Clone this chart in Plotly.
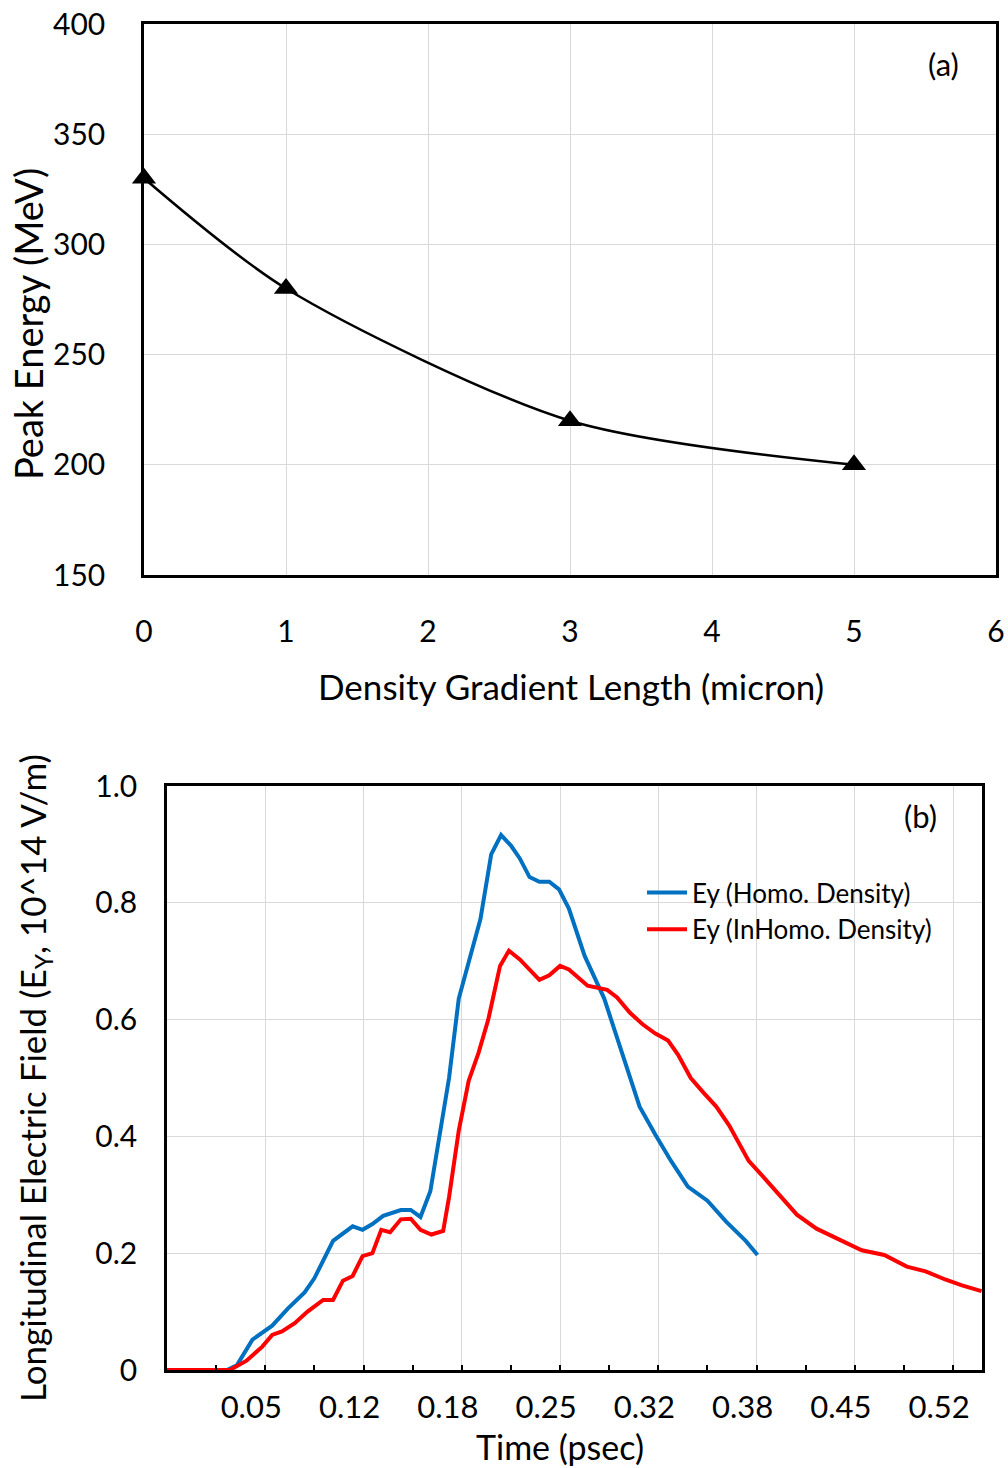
import plotly.graph_objects as go

FONT = "Lato, 'Open Sans', sans-serif"

# ---------- Panel (a) data ----------
gradient_length = [0, 1, 3, 5]
peak_energy = [330, 280, 220, 200]

# ---------- Panel (b) data ----------
time_homo = [-0.0167, 0.024, 0.0307, 0.0413, 0.0547, 0.0653, 0.0767, 0.0833, 0.096, 0.1093,
             0.116, 0.1227, 0.13, 0.142, 0.1487, 0.1553, 0.162, 0.168, 0.1747, 0.1813,
             0.188, 0.196, 0.2033, 0.21, 0.2167, 0.2227, 0.2293, 0.236, 0.2427, 0.2493,
             0.256, 0.2667, 0.28, 0.2927, 0.304, 0.3147, 0.3253, 0.3367, 0.35, 0.3627,
             0.376, 0.384]
ey_homo = [0, 0, 0.008, 0.052, 0.076, 0.105, 0.133, 0.157, 0.221, 0.246,
           0.24, 0.25, 0.264, 0.274, 0.274, 0.262, 0.306, 0.395, 0.50, 0.636,
           0.70, 0.772, 0.883, 0.916, 0.898, 0.876, 0.844, 0.836, 0.836, 0.823,
           0.790, 0.709, 0.636, 0.54, 0.451, 0.403, 0.358, 0.314, 0.29, 0.254,
           0.221, 0.197]

time_inhomo = [-0.0167, 0.026, 0.0373, 0.048, 0.0547, 0.0613, 0.07, 0.0787, 0.0893, 0.096,
               0.1027, 0.1093, 0.116, 0.1227, 0.1287, 0.1347, 0.142, 0.1487, 0.1553, 0.1627,
               0.1707, 0.1747, 0.1813, 0.188, 0.1947, 0.2013, 0.2093, 0.2153, 0.2227, 0.236,
               0.2427, 0.25, 0.256, 0.2687, 0.282, 0.2887, 0.2973, 0.306, 0.3147, 0.3233,
               0.33, 0.3387, 0.3473, 0.356, 0.3647, 0.378, 0.3867, 0.398, 0.4107, 0.424,
               0.4413, 0.4547, 0.47, 0.4853, 0.498, 0.5113, 0.5227, 0.536]
ey_inhomo = [0, 0, 0.016, 0.04, 0.06, 0.066, 0.08, 0.10, 0.12, 0.12,
             0.153, 0.161, 0.195, 0.20, 0.24, 0.236, 0.258, 0.259, 0.24, 0.232,
             0.238, 0.296, 0.41, 0.495, 0.543, 0.60, 0.692, 0.718, 0.703, 0.668,
             0.676, 0.692, 0.686, 0.658, 0.651, 0.638, 0.612, 0.592, 0.576, 0.564,
             0.54, 0.50, 0.475, 0.451, 0.419, 0.358, 0.334, 0.302, 0.266, 0.242,
             0.221, 0.205, 0.197, 0.177, 0.169, 0.155, 0.145, 0.135]

time_tickvals = [0.05, 0.11667, 0.18333, 0.25, 0.31667, 0.38333, 0.45, 0.51667]
time_ticktext = ["0.05", "0.12", "0.18", "0.25", "0.32", "0.38", "0.45", "0.52"]
field_tickvals = [0, 0.2, 0.4, 0.6, 0.8, 1.0]
field_ticktext = ["0", "0.2", "0.4", "0.6", "0.8", "1.0"]

W, H = 1008, 1468


def px_x(p):
    return p / W


def px_y(p):
    return 1 - p / H


fig = go.Figure()

fig.add_trace(go.Scatter(
    x=gradient_length, y=peak_energy, mode="lines+markers",
    line=dict(color="black", width=2.5, shape="spline", smoothing=0.8),
    marker=dict(symbol="triangle-up", size=21, color="black"),
    xaxis="x", yaxis="y", showlegend=False, cliponaxis=False))

fig.add_trace(go.Scatter(
    x=time_homo, y=ey_homo, mode="lines", name="Ey (Homo. Density)",
    line=dict(color="#0070C0", width=4), xaxis="x2", yaxis="y2"))
fig.add_trace(go.Scatter(
    x=time_inhomo, y=ey_inhomo, mode="lines", name="Ey (InHomo. Density)",
    line=dict(color="#FF0000", width=4), xaxis="x2", yaxis="y2"))

grid = "#D9D9D9"
common_axis = dict(showline=True, linecolor="black", linewidth=2.5, mirror=True,
                   showgrid=True, gridcolor=grid, gridwidth=1, zeroline=False,
                   automargin=False,
                   tickfont=dict(family=FONT, size=30, color="black"))


def ann(text, x, y, size, angle=0):
    return dict(text=text, x=px_x(x), y=px_y(y), xref="paper", yref="paper",
                xanchor="center", yanchor="middle", showarrow=False, textangle=angle,
                font=dict(family=FONT, size=size, color="black"))


fig.update_layout(
    width=W, height=H,
    margin=dict(l=0, r=0, t=0, b=0, pad=0, autoexpand=False),
    paper_bgcolor="white", plot_bgcolor="white",
    font=dict(family=FONT, color="black"),
    xaxis=dict(common_axis, domain=[px_x(144), px_x(996)], anchor="y",
               range=[0, 6], tickvals=[0, 1, 2, 3, 4, 5, 6], ticks="",
               ticklabelstandoff=28),
    yaxis=dict(common_axis, domain=[px_y(575), px_y(24)], anchor="x",
               range=[150, 400], tickvals=[150, 200, 250, 300, 350, 400], ticks="",
               ticklabelstandoff=30),
    xaxis2=dict(common_axis, domain=[px_x(167), px_x(982)], anchor="y2",
                range=[-0.01667, 0.5363], tickvals=time_tickvals, ticktext=time_ticktext,
                ticks="inside", ticklen=5, tickcolor="black", tickwidth=1.5,
                minor=dict(ticks="inside", ticklen=5, tickcolor="black", tickwidth=1.5,
                           tick0=0.05 - 1 / 30, dtick=1 / 15, showgrid=False),
                ticklabelstandoff=8, ticklabelshift=-14,
                tickfont=dict(family=FONT, size=31, color="black")),
    yaxis2=dict(common_axis, domain=[px_y(1370), px_y(786)], anchor="x2",
                range=[0, 1.0], tickvals=field_tickvals, ticktext=field_ticktext,
                ticks="", ticklabelstandoff=21),
    legend=dict(x=px_x(642), y=px_y(869), xanchor="left", yanchor="top",
                bgcolor="rgba(0,0,0,0)", font=dict(family=FONT, size=26, color="black"),
                tracegroupgap=0, itemwidth=40),
    annotations=[
        ann("Density Gradient Length (micron)", 571, 686, 35),
        ann("Peak Energy (MeV)", 28, 324, 38, -90),
        ann("(a)", 943, 64, 31),
        ann("Time (psec)", 560, 1446, 34),
        ann("Longitudinal Electric Field (E<sub>Y</sub>, 10^14 V/m)", 34, 1078, 35, -90),
        ann("(b)", 920, 816, 31),
    ],
)

fig.write_html("out.html")
